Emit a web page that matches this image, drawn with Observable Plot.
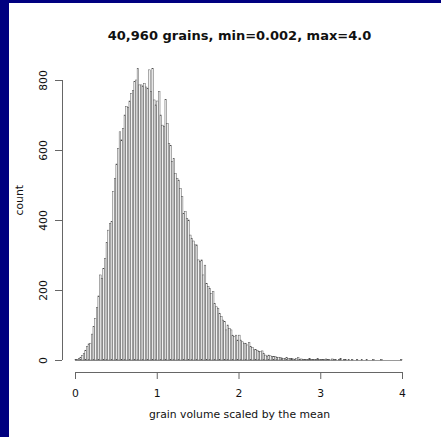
<!DOCTYPE html>
<html><head><meta charset="utf-8">
<script src="https://cdn.jsdelivr.net/npm/d3@7"></script>
<script src="https://cdn.jsdelivr.net/npm/@observablehq/plot@0.6"></script>
<style>
html,body{margin:0;padding:0;background:#fff;}
#wrap{position:relative;width:441px;height:437px;overflow:hidden;background:#fff;}
#wrap svg{position:absolute;left:0;top:0;}
#bl{position:absolute;left:0;top:0;width:9px;height:437px;background:#000080;}
#bt{position:absolute;left:0;top:0;width:441px;height:3px;background:#000080;}
</style></head><body><div id="wrap"></div>
<script>
const title = "40,960 grains, min=0.002, max=4.0";
const xLabel = "grain volume scaled by the mean";
const yLabel = "count";
const xTicks = [0, 1, 2, 3, 4];
const yTicks = [0, 200, 400, 600, 800];
const binWidth = 0.02;
const counts = [
  1, 2, 4, 8, 13, 18, 28, 38, 46, 48,
  74, 96, 118, 150, 183, 243, 233, 262, 290, 335,
  371, 390, 395, 481, 519, 560, 605, 652, 629, 662,
  700, 724, 722, 740, 762, 770, 795, 800, 833, 786,
  786, 783, 790, 780, 776, 829, 767, 833, 743, 729,
  740, 767, 700, 671, 667, 745, 676, 619, 613, 567,
  576, 533, 519, 514, 490, 467, 419, 424, 405, 400,
  357, 348, 340, 329, 329, 286, 281, 286, 243, 271,
  219, 210, 205, 190, 195, 162, 152, 148, 133, 124,
  114, 110, 86, 100, 90, 86, 71, 67, 71, 57,
  71, 57, 52, 48, 48, 43, 50, 38, 35, 29,
  30, 28, 24, 24, 26, 19, 14, 11, 14, 12,
  10, 10, 10, 7, 8, 7, 6, 5, 4, 7,
  5, 4, 5, 3, 2, 5, 7, 2, 3, 2,
  2, 1, 2, 5, 2, 1, 2, 1, 5, 1,
  2, 1, 1, 3, 1, 1, 0, 3, 1, 1,
  0, 1, 4, 0, 1, 1, 0, 1, 0, 1,
  0, 0, 1, 0, 0, 1, 0, 0, 1, 0,
  0, 0, 1, 0, 0, 0, 0, 1, 0, 0,
  0, 0, 0, 0, 0, 0, 0, 0, 0, 1
];
const bins = counts.map((c, i) => ({x1: i * binWidth, x2: (i + 1) * binWidth, count: c}));
const axisColor = "#666";

const chart = Plot.plot({
  width: 441, height: 437,
  marginLeft: 62, marginRight: 25, marginTop: 80, marginBottom: 65,
  style: {fontFamily: "'DejaVu Sans', sans-serif", fontSize: "10.8px", background: "white", color: "#111", overflow: "visible"},
  x: {domain: [xTicks[0], xTicks[xTicks.length - 1]], range: [75, 402], axis: null},
  y: {domain: [yTicks[0], yTicks[yTicks.length - 1]], range: [360, 80], axis: null},
  marks: [
    Plot.rectY(bins.filter(d => d.count > 0), {x1: "x1", x2: "x2", y1: 0, y2: "count", fill: "#f2f2f2", stroke: "#4a4a4a", strokeWidth: 0.45, inset: 0}),
    Plot.ruleY([0], {x1: xTicks[0], x2: xTicks[xTicks.length - 1], stroke: "#555", strokeWidth: 0.6}),
    // x axis
    Plot.ruleY([0], {x1: xTicks[0], x2: xTicks[xTicks.length - 1], dy: 12, stroke: axisColor}),
    Plot.axisX(xTicks, {anchor: "bottom", tickSize: 7, tickPadding: 10, stroke: axisColor, label: null, fill: "#111"}),
    // y axis
    Plot.ruleX([0], {y1: yTicks[0], y2: yTicks[yTicks.length - 1], dx: -13, stroke: axisColor}),
    Plot.axisY(yTicks, {anchor: "left", tickSize: 7, tickPadding: 9, tickRotate: -90, stroke: axisColor, label: null, fill: "#111"}),
    // titles
    Plot.text([title], {frameAnchor: "top", dy: -50, fontSize: 13, fontWeight: "bold", fill: "#111"}),
    Plot.text([xLabel], {frameAnchor: "bottom", dy: 45.5, fill: "#111"}),
    Plot.text([yLabel], {frameAnchor: "left", rotate: -90, dx: -42.8, dy: -11, fill: "#111"})
  ]
});
const wrap = document.getElementById("wrap");
wrap.appendChild(chart);
const bl = document.createElement("div"); bl.id = "bl"; wrap.appendChild(bl);
const bt = document.createElement("div"); bt.id = "bt"; wrap.appendChild(bt);
</script></body></html>
